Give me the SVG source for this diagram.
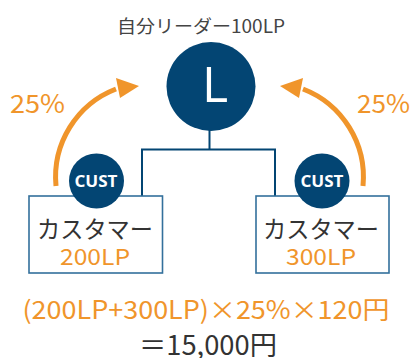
<svg xmlns="http://www.w3.org/2000/svg" width="414" height="358" viewBox="0 0 414 358">
<style>
.t{font-family:"Noto Sans CJK JP","Noto Sans",sans-serif}
.dk{fill:#333333}
.or{fill:#f0952b}
.ln{fill:none;stroke:#034573;stroke-width:2}
.box{fill:#ffffff;stroke:#33709c;stroke-width:1.6}
.arc{fill:none;stroke:#f0952b;stroke-width:5}
.cust{fill:#034573}
.ct{font-family:"Open Sans","Noto Sans",sans-serif;font-weight:bold;font-size:16px;fill:#ffffff}
</style>
<rect width="414" height="358" fill="#ffffff"/>
<g id="title"><text class="t" x="117" y="33" font-size="18" fill="#444444" textLength="168" lengthAdjust="spacingAndGlyphs">自分リーダー100LP</text></g>
<g id="connectors">
<polyline class="ln" points="209.5,128 209.5,149.5"/>
<polyline class="ln" points="142,196 142,149.5 275,149.5 275,196"/>
<path class="arc" d="M56,186 A94.5 94.5 0 0 1 116,89"/>
<polygon fill="#f0952b" points="139,86 116,78 120,98"/>
<path class="arc" d="M363,186 A94.5 94.5 0 0 0 303,89"/>
<polygon fill="#f0952b" points="280,86 303,78 299,98"/>
</g>
<g id="leader">
<circle cx="211" cy="86.5" r="44.5" fill="#034573"/>
<text x="215" y="101.5" font-family="Open Sans,Noto Sans,sans-serif" font-size="50" fill="#ffffff" text-anchor="middle">L</text>
</g>
<g id="pct-left"><text class="t or" x="10" y="113" font-size="25" textLength="55" lengthAdjust="spacingAndGlyphs">25%</text></g>
<g id="pct-right"><text class="t or" x="357" y="113" font-size="25" textLength="53" lengthAdjust="spacingAndGlyphs">25%</text></g>
<g id="cust-left">
<rect class="box" x="29" y="196" width="133.5" height="77"/>
<circle class="cust" cx="96.5" cy="181" r="27.5"/>
<text class="ct" x="74.5" y="187" textLength="43" lengthAdjust="spacingAndGlyphs">CUST</text>
<text class="t dk" x="37" y="238" font-size="24" textLength="116" lengthAdjust="spacingAndGlyphs">カスタマー</text>
<text class="t or" x="60" y="265" font-size="22" textLength="70" lengthAdjust="spacingAndGlyphs">200LP</text>
</g>
<g id="cust-right">
<rect class="box" x="256" y="196" width="133" height="77"/>
<circle class="cust" cx="322" cy="181" r="27.5"/>
<text class="ct" x="300.5" y="187" textLength="43" lengthAdjust="spacingAndGlyphs">CUST</text>
<text class="t dk" x="263" y="238" font-size="24" textLength="116" lengthAdjust="spacingAndGlyphs">カスタマー</text>
<text class="t or" x="286" y="265" font-size="22" textLength="70" lengthAdjust="spacingAndGlyphs">300LP</text>
</g>
<g id="formula">
<text class="t or" x="22.5" y="319" font-size="25" textLength="367" lengthAdjust="spacingAndGlyphs">(200LP+300LP)×25%×120円</text>
<text class="t dk" x="139" y="355" font-size="27" fill="#222222" textLength="138" lengthAdjust="spacingAndGlyphs">＝15,000円</text>
</g>
</svg>
